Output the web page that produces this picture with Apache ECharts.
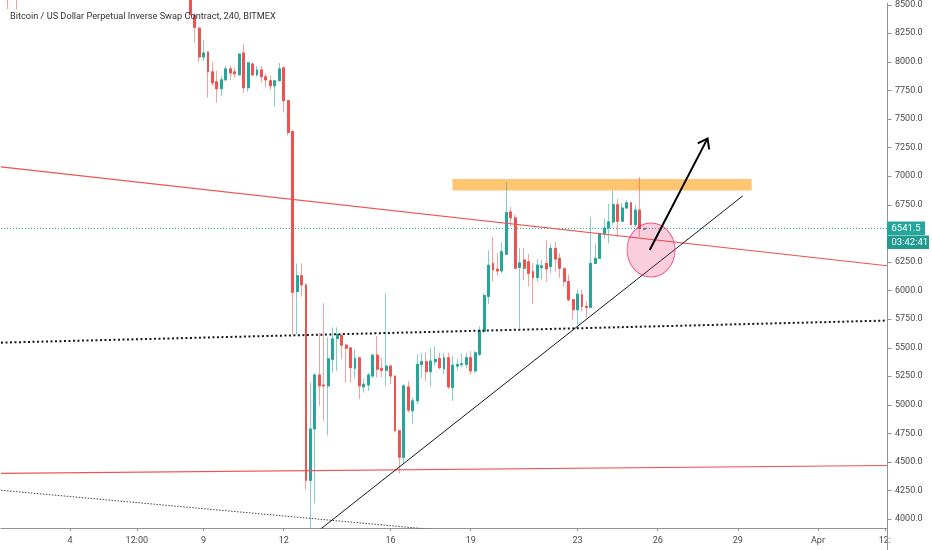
<!DOCTYPE html>
<html>
<head>
<meta charset="utf-8">
<script src="https://cdn.jsdelivr.net/npm/echarts@6/dist/echarts.min.js"></script>
<style>
html,body{margin:0;padding:0;background:#ffffff;}
#chart{width:932px;height:550px;}
</style>
</head>
<body>
<div id="chart"></div>
<script>
// ---------- DATA ----------
const titleText = 'Bitcoin / US Dollar Perpetual Inverse Swap Contract, 240, BITMEX';

// 4-hour candle slots, first slot 2020-03-01 12:00 UTC
const firstSlot = Date.UTC(2020, 2, 1, 12, 0);
const slotHours = 4;
const slotCount = 199;

// x-axis tick labels [slot time, label]
const tickLabels = [
  ['2020-03-04 00:00', '4'],
  ['2020-03-06 12:00', '12:00'],
  ['2020-03-09 00:00', '9'],
  ['2020-03-12 00:00', '12'],
  ['2020-03-16 00:00', '16'],
  ['2020-03-19 00:00', '19'],
  ['2020-03-23 00:00', '23'],
  ['2020-03-26 00:00', '26'],
  ['2020-03-29 00:00', '29'],
  ['2020-04-01 00:00', 'Apr'],
  ['2020-04-03 12:00', '12:']
];

// price axis
const yMin = 3922;
const yMax = 8511;
const priceTicks = [4000,4250,4500,4750,5000,5250,5500,5750,6000,6250,6500,6750,7000,7250,7500,7750,8000,8250,8500];

// OHLC (one value per 4h candle)
const open = [
8590,8560,8540,8575,8550,8640,8720,8810,8890,8860,
8780,8720,8760,8740,8790,8770,8800,8760,8780,8750,
8770,8790,8850,8900,9050,9020,9060,9070,9100,9080,
9120,9140,9110,9130,9080,9020,8950,8880,8900,8880,
8780,8700,8640,8405,8293,8041,8085,7911,7824,7763,
7841,7937,7911,7885,8076,7772,7980,7885,7928,7868,
7833,7789,7833,7946,7659,7390,5990,6129,6048,4339,
4788,5260,5173,5165,5397,5579,5608,5521,5497,5318,
5410,5156,5173,5251,5434,5318,5301,5338,5251,4773,
4541,5156,4947,5034,5353,5376,5289,5376,5405,5315,
5411,5150,5338,5350,5353,5411,5295,5440,5643,5947,
6236,6186,6170,6316,6686,6634,6200,6266,6250,6164,
6112,6199,6236,6208,6367,6280,6190,6077,5918,5831,
5961,5860,5851,6236,6280,6497,6546,6599,6749,6605,
6720,6766,6575,6702,6535
];
const close = [
8560,8540,8575,8550,8640,8720,8810,8890,8860,8780,
8720,8760,8740,8790,8770,8800,8760,8780,8750,8770,
8790,8850,8900,9050,9020,9060,9070,9100,9080,9120,
9140,9110,9130,9080,9020,8950,8880,8900,8880,8780,
8700,8640,8410,8300,8041,8076,7911,7815,7763,7841,
7937,7902,7894,8067,7772,7989,7885,7928,7868,7841,
7789,7833,7937,7659,7381,5984,6129,6048,4339,4788,
5260,5165,5165,5402,5576,5614,5521,5495,5324,5405,
5165,5179,5260,5434,5310,5301,5338,5251,4773,4541,
5165,4953,5034,5353,5376,5289,5382,5397,5324,5411,
5156,5345,5353,5358,5411,5295,5454,5649,5955,6220,
6179,6169,6338,6680,6634,6193,6240,6193,6149,6112,
6222,6214,6187,6367,6274,6193,6077,5918,5831,5967,
5860,5851,6236,6280,6497,6546,6599,6749,6605,6720,
6766,6575,6702,6541,6541.5
];
const low = [
8530,8460,8525,8455,8530,8620,8700,8790,8820,8740,
8680,8690,8700,8720,8740,8740,8730,8720,8700,8720,
8750,8770,8830,8880,8990,9000,9030,9040,9050,9060,
9090,9080,9090,9050,8990,8900,8850,8850,8830,8760,
8650,8560,8380,8165,7998,8006,7685,7789,7642,7702,
7833,7841,7859,7880,7728,7737,7876,7868,7815,7772,
7754,7607,7830,7555,7355,5616,5616,5947,4258,3925,
4139,4991,4860,4730,5280,5295,5399,5193,5193,5230,
5049,5106,5121,5237,5237,5237,5165,5179,4759,4397,
4484,4932,4832,5006,5237,5208,5156,5338,5310,5266,
5136,5034,5300,5330,5324,5266,5280,5425,5628,5880,
6077,6130,6149,6309,6560,6190,5670,6090,6034,5880,
6077,6094,6077,6149,6164,6106,6034,5903,5744,5695,
5816,5758,5842,6230,6276,6454,6410,6570,6468,6599,
6715,6570,6555,6468,6530
];
const high = [
8620,8600,8600,8610,8660,8760,8850,8930,8920,8880,
8800,8790,8800,8820,8830,8840,8820,8810,8800,8790,
8820,8880,8940,9100,9090,9110,9120,9140,9130,9160,
9180,9170,9160,9150,9100,9040,8970,8930,8920,8900,
8810,8720,8680,8420,8300,8189,8090,7998,7920,7876,
7963,7963,7946,8070,8154,7995,7990,7963,7963,7894,
7876,7841,7989,7963,7665,7400,6236,6236,6060,5193,
5278,5628,5888,5590,5677,5677,5612,5530,5500,5480,
5415,5225,5280,5446,5599,5410,5976,5353,5255,4775,
5179,5208,5063,5440,5454,5454,5498,5512,5454,5454,
5454,5425,5400,5446,5454,5469,5469,5686,5976,6350,
6468,6330,6425,6946,6729,6660,6370,6367,6320,6240,
6274,6266,6442,6410,6425,6323,6193,6138,5920,6005,
6005,5903,6642,6410,6500,6628,6758,6874,6801,6766,
6790,6770,6746,6990,6550
];

const lastPrice = 6541.5;
const countdown = '03:42:41';

// drawings: [slot index, price]
const redLineUpper  = [[-0.5, 7080], [198.5, 6216]];
const redLineLower  = [[-0.5, 4400], [198.5, 4469]];
const supportDotted = [[-0.5, 5543], [198.5, 5736]];
const lowDotted     = [[-0.5, 4252], [110, 3861]];
const risingTrend   = [[70, 3873], [166.1, 6826]];
const lastPriceLine = [[-0.5, lastPrice], [198.5, lastPrice]];
const resistanceZone = [100.9, 6975, 168.1, 6874]; // x1, top, x2, bottom
const circleCenter  = [145.5, 6353];
const arrowFrom     = [145.2, 6353];
const arrowTo       = [158.2, 7329];

// ---------- CHART ----------
const categories = [];
for (let k = 0; k < slotCount; k++) {
  const d = new Date(firstSlot + k * slotHours * 3600 * 1000);
  categories.push(d.toISOString().slice(0, 16).replace('T', ' '));
}
const tickMap = Object.fromEntries(tickLabels);
const candles = open.map((o, k) => [o, close[k], low[k], high[k]]);
const bodies = open.map((o, k) => [o, close[k], Math.min(o, close[k]), Math.max(o, close[k])]);

const FONT = 'Roboto, "Noto Sans", "DejaVu Sans", sans-serif';
const UP = '#26a69a', DOWN = '#ef5350';
const AXIS = '#8f929b', TXT = '#4a4a4a';

function drawLine(name, pts, style, z) {
  return { type: 'line', name, xAxisIndex: 1, data: pts, symbol: 'none', showSymbol: false,
           lineStyle: style, z, silent: true, clip: true };
}

const chart = echarts.init(document.getElementById('chart'));
chart.setOption({
  animation: false,
  backgroundColor: '#ffffff',
  title: {
    text: titleText, left: 5, top: 7,
    textStyle: { fontSize: 9.2, fontWeight: 'normal', color: '#333333', fontFamily: FONT }
  },
  grid: { left: 1, right: 45, top: 0, bottom: 22, containLabel: false },
  xAxis: [
    {
      type: 'category', data: categories, boundaryGap: true,
      axisLine: { show: true, onZero: false, lineStyle: { color: AXIS } },
      axisTick: { show: true, alignWithLabel: true, length: 3,
                  interval: (i, v) => v in tickMap, lineStyle: { color: AXIS } },
      axisLabel: { interval: (i, v) => v in tickMap, formatter: v => tickMap[v] || '',
                   fontSize: 9, color: TXT, margin: 8, fontFamily: FONT },
      splitLine: { show: false }
    },
    { type: 'value', min: -0.5, max: 198.5, show: false,
      axisLine: { show: false, onZero: false }, axisTick: { show: false }, axisLabel: { show: false } }
  ],
  yAxis: {
    type: 'value', position: 'right', min: yMin, max: yMax,
    axisLine: { show: true, onZero: false, lineStyle: { color: AXIS } },
    axisTick: { show: false },
    axisLabel: { customValues: priceTicks, formatter: v => Number(v).toFixed(1),
                 fontSize: 9, color: TXT, margin: 8, fontFamily: FONT },
    splitLine: { show: false }
  },
  series: [
    {
      type: 'custom', name: 'zone', xAxisIndex: 1, z: 1, silent: true,
      data: [resistanceZone],
      renderItem: (p, api) => {
        const a = api.coord([api.value(0), api.value(1)]);
        const b = api.coord([api.value(2), api.value(3)]);
        return { type: 'rect', shape: { x: a[0], y: a[1], width: b[0] - a[0], height: b[1] - a[1] },
                 style: { fill: 'rgba(255,152,0,0.56)' } };
      }
    },
    {
      type: 'candlestick', name: 'wicks', data: candles, barWidth: 2.4, z: 2, silent: true,
      itemStyle: { color: 'rgba(38,166,154,0.5)', color0: 'rgba(239,83,80,0.5)',
                   borderColor: 'rgba(38,166,154,0.55)', borderColor0: 'rgba(239,83,80,0.55)', borderWidth: 1 }
    },
    {
      type: 'candlestick', name: 'XBTUSD', data: bodies, barWidth: 2.4, z: 3, silent: true,
      itemStyle: { color: UP, color0: DOWN, borderColor: UP, borderColor0: DOWN, borderWidth: 1 }
    },
    drawLine('lastPrice', lastPriceLine, { color: UP, width: 1, type: [1, 2] }, 4),
    drawLine('redUpper', redLineUpper, { color: '#ef5350', width: 1.1 }, 4),
    drawLine('redLower', redLineLower, { color: '#ef5350', width: 1.1 }, 4),
    drawLine('support', supportDotted, { color: '#131722', width: 2, type: [2, 2.5] }, 4),
    drawLine('lowDotted', lowDotted, { color: '#444444', width: 1, type: [1.5, 1.5] }, 4),
    drawLine('trend', risingTrend, { color: '#131722', width: 1 }, 4),
    {
      type: 'scatter', name: 'circle', xAxisIndex: 1, data: [circleCenter], symbol: 'circle',
      symbolSize: [48, 54], z: 5, silent: true,
      itemStyle: { color: 'rgba(233,30,99,0.22)', borderColor: 'rgba(233,30,99,0.7)', borderWidth: 1, opacity: 1 }
    },
    {
      type: 'custom', name: 'arrow', xAxisIndex: 1, z: 6, silent: true,
      data: [arrowFrom.concat(arrowTo)],
      renderItem: (p, api) => {
        const p1 = api.coord([api.value(0), api.value(1)]);
        const p2 = api.coord([api.value(2), api.value(3)]);
        const ang = Math.atan2(p2[1] - p1[1], p2[0] - p1[0]);
        const L = 11, a = 0.62;
        const w1 = [p2[0] - L * Math.cos(ang - a), p2[1] - L * Math.sin(ang - a)];
        const w2 = [p2[0] - L * Math.cos(ang + a), p2[1] - L * Math.sin(ang + a)];
        return { type: 'group', children: [
          { type: 'line', shape: { x1: p1[0], y1: p1[1], x2: p2[0], y2: p2[1] },
            style: { stroke: '#000000', lineWidth: 2 } },
          { type: 'polyline', shape: { points: [w1, p2, w2] },
            style: { stroke: '#000000', fill: null, lineWidth: 2, lineJoin: 'miter' } }
        ] };
      }
    },
    {
      type: 'custom', name: 'priceScale', xAxisIndex: 1, z: 10, silent: true, clip: false,
      data: [[0, lastPrice]],
      renderItem: (p, api) => {
        const cs = p.coordSys;
        const rx = Math.round(cs.x + cs.width) + 0.5;
        const y = api.coord([0, api.value(1)])[1];
        const font = '9.5px ' + FONT;
        const children = priceTicks.map(v => {
          const ty = Math.round(api.coord([0, v])[1]) + 0.5;
          return { type: 'line', shape: { x1: rx, y1: ty, x2: rx + 4, y2: ty }, style: { stroke: AXIS, lineWidth: 1 } };
        });
        children.push(
          { type: 'line', shape: { x1: rx, y1: cs.y + cs.height, x2: rx, y2: cs.y + cs.height + 30 },
            style: { stroke: AXIS, lineWidth: 1 } },
          { type: 'rect', shape: { x: rx - 0.5, y: y - 7, width: 38, height: 13.5 }, style: { fill: UP } },
          { type: 'text', x: rx + 4, y: y, style: { text: String(lastPrice), fill: '#ffffff', font: font, verticalAlign: 'middle' } },
          { type: 'rect', shape: { x: rx - 0.5, y: y + 7, width: 42, height: 13.5 }, style: { fill: '#1f9c8f' } },
          { type: 'text', x: rx + 4, y: y + 14, style: { text: countdown, fill: '#ffffff', font: font, verticalAlign: 'middle' } }
        );
        return { type: 'group', children };
      }
    }
  ]
});
</script>
</body>
</html>
